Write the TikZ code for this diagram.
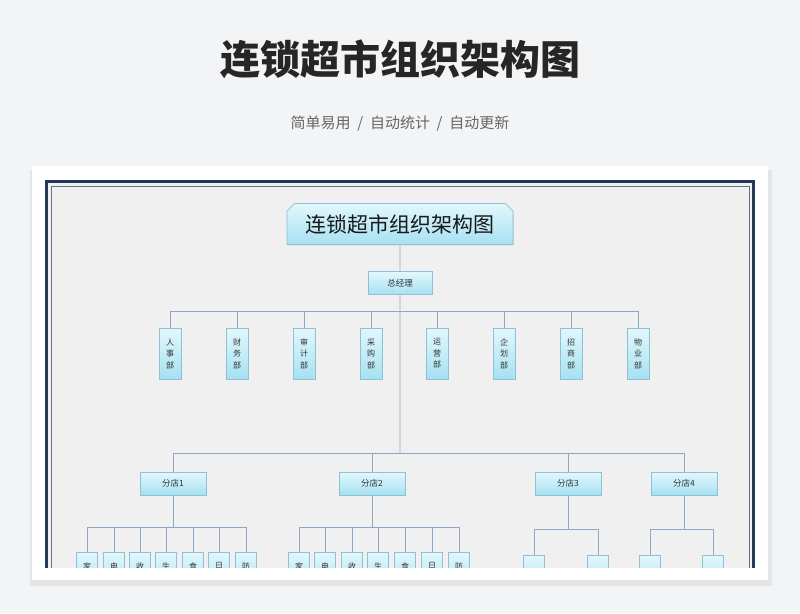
\documentclass[tikz,border=0pt]{standalone}
\usepackage{fontspec}
\setmainfont{Noto Sans CJK SC}
\newfontfamily\cjk{Noto Sans CJK SC}
\usetikzlibrary{shadows,shapes.misc}
\definecolor{pagebg}{HTML}{F3F4F6}
\definecolor{framebg}{HTML}{F0F0F0}
\definecolor{navy}{HTML}{24395A}
\definecolor{lin}{HTML}{8FA7C6}
\definecolor{btop}{HTML}{E2F7FC}
\definecolor{bbot}{HTML}{A6E1F2}
\definecolor{bdr}{HTML}{8CC2D4}
\tikzset{
 box/.style={draw=bdr,line width=0.6pt,top color=btop,bottom color=bbot,inner sep=0pt,
   drop shadow={shadow xshift=0.8pt,shadow yshift=-0.8pt,opacity=0.25},font=\cjk\fontsize{8.5}{10}\selectfont,text=black!80},
 hbox/.style={box,minimum width=66pt,minimum height=23pt},
 dbox/.style={box,minimum width=22pt,minimum height=51pt,align=center,font=\cjk\fontsize{8}{11.5}\selectfont},
 sbox/.style={box,minimum width=21pt,minimum height=40pt,anchor=north},
 stxt/.style={font=\cjk\fontsize{8}{10}\selectfont,text=black!80,inner sep=0pt},
 ln/.style={draw=lin,line width=0.7pt}
}
\begin{document}
\begin{tikzpicture}[x=1pt,y=-1pt]
\useasboundingbox (0,0) rectangle (800,613);
\fill[pagebg] (0,0) rectangle (800,613);
\node[font=\cjk\bfseries\fontsize{40}{44}\selectfont,text=black!85] (t) at (400,59) {连锁超市组织架构图};
\node[font=\cjk\fontsize{15}{18}\selectfont,text=black!60] (st) at (400,124) {简单易用 \ / \ 自动统计 \ / \ 自动更新};
\fill[black,opacity=0.06] (30,170) rectangle (772,586);
\fill[white] (32,166) rectangle (768,580);
\begin{scope}
\clip (44,178) rectangle (756,567);
\draw[navy,line width=3.5pt,fill=framebg] (46.5,181.5) rectangle (753.5,620);
\draw[navy!70!white,line width=1pt] (51,186) rectangle (749,620);
\node[draw=bdr,line width=0.6pt,top color=btop,bottom color=bbot,
  chamfered rectangle,chamfered rectangle corners={north west,north east},chamfered rectangle xsep=4pt,
  minimum width=226pt,minimum height=41pt,inner sep=0pt,
  drop shadow={shadow xshift=0.8pt,shadow yshift=-0.8pt,opacity=0.25},
  font=\cjk\fontsize{21}{24}\selectfont,text=black!90] (title) at (400,224) {连锁超市组织架构图};
\node[hbox,minimum width=64pt] (gm) at (400,283) {总经理};
\coordinate (j1) at (400,453);
\draw[ln] (title) -- (gm) -- (j1);
\foreach \n/\x/\t in {a/170/人\\事\\部,b/237/财\\务\\部,c/304/审\\计\\部,d/371/采\\购\\部,e/437/运\\营\\部,f/504/企\\划\\部,g/571/招\\商\\部,h/638/物\\业\\部}{
  \node[dbox] (\n) at (\x,353.5) {\t};
  \draw[ln] (\n.north) -- (\x,311);
}
\draw[ln] (170,311) -- (638,311);
\draw[ln] (173,453) -- (685,453);
\foreach \n/\x/\t in {s1/173/分店1,s2/372/分店2,s3/568/分店3,s4/684/分店4}{
  \node[hbox] (\n) at (\x,483.5) {\t};
  \draw[ln] (\n.north) -- (\x,453);
}
\foreach \s/\xa/\xb in {s1/87/247,s2/299/459}{
  \draw[ln] (\s.south) -- (\s.south |- 0,527);
  \draw[ln] (\xa,527) -- (\xb,527);
}
\foreach \i/\x/\t in {1/87/家,2/114/电,3/140/收,4/166/生,5/193/食,6/219/日,7/246/防}{
  \node[sbox] (p\i) at (\x,552) {};
  \node[stxt] (pt\i) at (\x,566) {\t};
  \draw[ln] (p\i.north) -- (\x,527);
}
\foreach \i/\x/\t in {1/299/家,2/325/电,3/352/收,4/378/生,5/405/食,6/432/日,7/459/防}{
  \node[sbox] (q\i) at (\x,552) {};
  \node[stxt] (qt\i) at (\x,566) {\t};
  \draw[ln] (q\i.north) -- (\x,527);
}
\draw[ln] (s3.south) -- (568,529);
\draw[ln] (534,529) -- (598,529);
\draw[ln] (s4.south) -- (684,529);
\draw[ln] (650,529) -- (713,529);
\foreach \n/\x in {r1/534,r2/598,r3/650,r4/713}{
  \node[sbox] (\n) at (\x,555) {};
  \draw[ln] (\n.north) -- (\x,529);
}
\end{scope}
\end{tikzpicture}
\end{document}
